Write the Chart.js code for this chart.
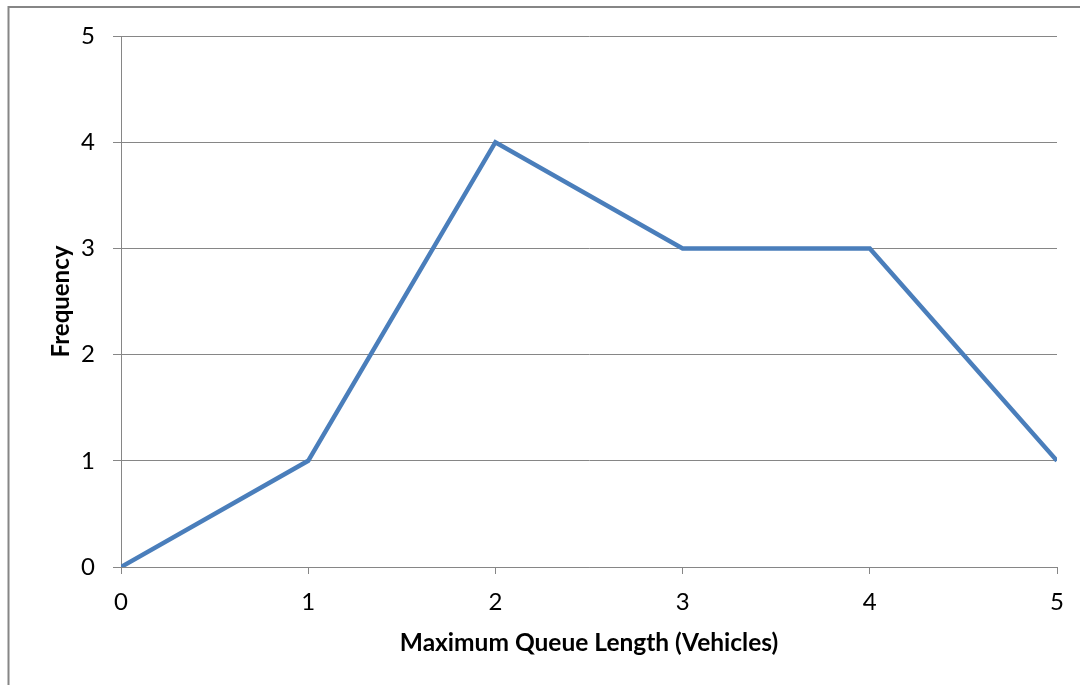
<!DOCTYPE html>
<html>
<head>
<meta charset="utf-8">
<script src="https://cdn.jsdelivr.net/npm/chart.js@4"></script>
<style>
  html, body { margin: 0; padding: 0; background: #fff; }
  #wrap { width: 1080px; height: 685px; }
</style>
</head>
<body>
<div id="wrap"><canvas id="queueChart"></canvas></div>
<script>
// queue length histogram data
const queueLengths = [0, 1, 2, 3, 4, 5];
const frequencies = [0, 1, 4, 3, 3, 1];
const yTicks = [0, 1, 2, 3, 4, 5];

const gridGrey = '#868686';
const lineBlue = '#4a7ebb';

// thin frame around the chart (top and left edges)
const framePlugin = {
  id: 'frame',
  beforeDraw(chart) {
    const c = chart.ctx;
    c.save();
    c.fillStyle = '#fff';
    c.fillRect(0, 0, chart.width, chart.height);
    c.strokeStyle = gridGrey;
    c.lineWidth = 2;
    c.beginPath();
    c.moveTo(chart.width, 7);
    c.lineTo(8.5, 7);
    c.lineTo(8.5, chart.height);
    c.stroke();
    c.restore();
  }
};

Chart.defaults.font.family = 'Lato, "Open Sans", sans-serif';
Chart.defaults.color = '#000';

new Chart(document.getElementById('queueChart'), {
  type: 'line',
  data: {
    datasets: [{
      label: 'Frequency',
      data: queueLengths.map((q, i) => ({ x: q, y: frequencies[i] })),
      borderColor: lineBlue,
      backgroundColor: lineBlue,
      borderWidth: 4.5,
      pointRadius: 0,
      tension: 0
    }]
  },
  options: {
    responsive: true,
    maintainAspectRatio: false,
    animation: false,
    layout: { padding: { top: 36, right: 23, left: 0, bottom: 0 } },
    plugins: {
      legend: { display: false },
      tooltip: { enabled: false }
    },
    scales: {
      x: {
        type: 'linear',
        min: 0,
        max: 5,
        afterBuildTicks(axis) {
          axis.ticks = queueLengths.map(v => ({ value: v }));
        },
        afterFit(axis) { axis.height = 118; },
        grid: { drawOnChartArea: false, color: gridGrey, tickLength: 7 },
        border: { color: gridGrey },
        ticks: { font: { size: 24 }, padding: 14, maxRotation: 0 },
        title: {
          display: true,
          text: 'Maximum Queue Length (Vehicles)',
          font: { size: 24.5, weight: 'bold' },
          padding: { bottom: 27 }
        }
      },
      y: {
        min: 0,
        max: 5,
        afterBuildTicks(axis) {
          axis.ticks = yTicks.map(v => ({ value: v }));
        },
        afterFit(axis) { axis.width = 121; },
        grid: { color: gridGrey, tickLength: 8 },
        border: { color: gridGrey },
        ticks: { font: { size: 24 }, padding: 18 },
        title: {
          display: true,
          text: 'Frequency',
          font: { size: 24, weight: 'bold' },
          padding: { top: 47 }
        }
      }
    }
  },
  plugins: [framePlugin]
});
</script>
</body>
</html>
